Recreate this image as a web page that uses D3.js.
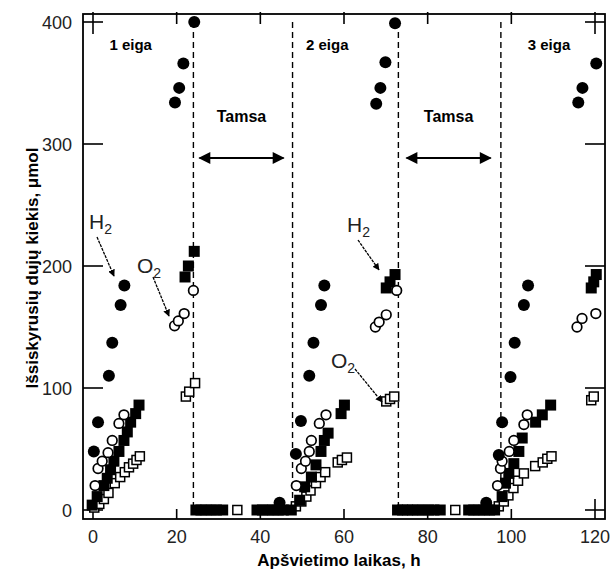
<!DOCTYPE html>
<html><head><meta charset="utf-8">
<script src="https://cdn.jsdelivr.net/npm/d3@7"></script>
<style>body{margin:0;background:#fff}svg{display:block}</style>
</head><body>
<script>
// ---- data ----
const xTicks = [0, 20, 40, 60, 80, 100, 120];
const yTicks = [0, 100, 200, 300, 400];
const darkLines = [24, 47.7, 73, 97.5];
const phaseLabels = ["1 eiga", "2 eiga", "3 eiga"];
const phaseLabelX = [9, 56, 109];
const darkLabelX = [35.5, 85];
// H2 (filled circles)
const h2Circles = [
  [0.2,48],[1.2,72],[3.8,110],[4.6,137],[6.6,168],[7.5,184],[19.6,334],[20.6,346],[21.6,366],[24.2,400],
  [44.6,6],
  [48.5,46],[49.7,73],[51.7,110],[52.7,137],[54.5,168],[55.3,184],[67.7,333],[68.7,346],[69.9,367],[72.2,399],
  [94,6],
  [97,45],[97.8,72],[99.8,109],[100.8,137],[103,168],[104,184],[116,334],[117,346],[120.3,366]
];
// O2 (open circles)
const o2Circles = [
  [0.5,20],[1.2,34],[2.2,40],[3.6,47],[4.6,57],[6.2,71],[7.4,78],[19.5,151],[20.4,155],[21.8,161],[24,180],
  [48.6,20],[49.8,34],[50.8,40],[51.7,48],[52.2,57],[54.1,71],[55.7,78],[67.5,150],[68.4,154],[70.1,160],[72.6,180],
  [96.7,20],[97.4,34],[97.8,40],[99.5,48],[100.6,57],[103,70],[103.8,78],[115.7,150],[116.9,157],[120.2,161]
];
// H2 (filled squares)
const h2Squares = [
  [-0.2,4],[1,11],[2.6,20],[3.4,26],[4.2,33],[5,40],[6.2,48],[7.4,57],[8.2,64],[9,72],[10.2,79],[11,86],[22,191],[22.8,200],[24.2,212],
  [24.6,0],[25.8,0],[27,0],[28.3,0],[29.5,0],[31,0],[39.2,0],[40.5,0],[41.8,0],[43,0],[44.3,0],[45.5,0],[47.4,0],
  [49.4,8],[50.6,19],[52.2,27],[53.3,37],[54.5,48],[55.3,57],[56.2,63],[59.3,79],[60.1,86],[70.1,182],[71,187],[72.2,193],
  [72.8,0],[74,0],[75.2,0],[76.4,0],[77.6,0],[78.9,0],[80.2,0],[81.5,0],[83,0],[89.8,0],[91,0],[92.3,0],[93.5,0],[94.8,0],[96,0],
  [97.8,11],[98.6,22],[99.4,30],[100.6,38],[101.8,48],[102.6,59],[105.8,72],[107.4,78],[109.4,86],[119.1,182],[119.7,187],[120.3,193]
];
// O2 (open squares)
const o2Squares = [
  [0.3,2],[1.5,5],[2.6,9],[3.7,14],[5.2,22],[6.5,27],[7.6,31],[8.6,35],[9.6,38],[10.4,41],[11.2,44],[22.2,93],[23,97],[24.4,104],
  [34.5,0],
  [48.5,3],[49.8,7],[51,11],[52,16],[53.3,22],[54.4,27],[55.5,31],[58.5,39],[59.5,41],[60.7,43],[70.1,89],[71,91],[72,93],
  [86.6,0],
  [97,3],[98.2,7],[99.3,12],[100.5,18],[101.6,24],[103,30],[105.7,36],[107.5,39],[108.6,42],[109.6,44],[119.1,90],[119.7,93]
];

const W = 610, H = 573;
const font = "'Liberation Sans', Arial, Helvetica, sans-serif";
const svg = d3.select("body").append("svg").attr("width", W).attr("height", H)
  .style("font-family", font);

const x = d3.scaleLinear().domain([0, 120]).range([93, 595]);
const y = d3.scaleLinear().domain([0, 400]).range([510, 22]);
const L = 83, R = 605, T = 14, B = 519;

const defs = svg.append("defs");
defs.append("marker").attr("id", "ah")
  .attr("viewBox", "0 0 10 10").attr("refX", 9).attr("refY", 5)
  .attr("markerWidth", 7).attr("markerHeight", 7).attr("orient", "auto-start-reverse")
  .attr("markerUnits", "userSpaceOnUse")
  .append("path").attr("d", "M0,0 L10,5 L0,10 z").attr("fill", "#000");
defs.append("marker").attr("id", "ah2")
  .attr("viewBox", "0 0 10 10").attr("refX", 9).attr("refY", 5)
  .attr("markerWidth", 14).attr("markerHeight", 12).attr("orient", "auto-start-reverse")
  .attr("markerUnits", "userSpaceOnUse")
  .append("path").attr("d", "M0,0 L10,5 L0,10 z").attr("fill", "#000");

// frame
svg.append("rect").attr("x", L).attr("y", T).attr("width", R - L).attr("height", B - T)
  .attr("fill", "none").attr("stroke", "#000").attr("stroke-width", 1.8);

// ticks
const tk = svg.append("g").attr("stroke", "#000").attr("stroke-width", 1.6);
xTicks.forEach((v, i) => {
  const len = (i === 0 || i === xTicks.length - 1) ? 20 : 10;
  tk.append("line").attr("x1", x(v)).attr("x2", x(v)).attr("y1", B).attr("y2", B - len);
  tk.append("line").attr("x1", x(v)).attr("x2", x(v)).attr("y1", T - 2).attr("y2", T + len);
});
yTicks.forEach(v => {
  tk.append("line").attr("x1", L).attr("x2", L + 20).attr("y1", y(v)).attr("y2", y(v));
  tk.append("line").attr("x1", R).attr("x2", R - 20).attr("y1", y(v)).attr("y2", y(v));
});

// tick labels
svg.append("g").selectAll("text").data(xTicks).join("text")
  .attr("x", d => x(d)).attr("y", 543).attr("text-anchor", "middle")
  .attr("font-size", 18).attr("fill", "#222").text(d => d);
svg.append("g").selectAll("text").data(yTicks).join("text")
  .attr("x", 72).attr("y", d => y(d) + 6.5).attr("text-anchor", "end")
  .attr("font-size", 18).attr("fill", "#222").text(d => d);

// axis titles
svg.append("text").attr("x", 339).attr("y", 566).attr("text-anchor", "middle")
  .attr("font-size", 17).attr("font-weight", "bold").text("Apšvietimo laikas, h");
svg.append("text").attr("transform", "translate(38,268) rotate(-90)").attr("text-anchor", "middle")
  .attr("font-size", 17).attr("font-weight", "bold").text("Išsiskyrusių dujų kiekis, μmol");

// dashed lines
svg.append("g").selectAll("line").data(darkLines).join("line")
  .attr("x1", d => x(d)).attr("x2", d => x(d)).attr("y1", y(400)).attr("y2", y(0) - 4)
  .attr("stroke", "#000").attr("stroke-width", 1.4).attr("stroke-dasharray", "6,4");

// phase labels
svg.append("g").selectAll("text").data(phaseLabels).join("text")
  .attr("x", (d, i) => x(phaseLabelX[i])).attr("y", 50).attr("text-anchor", "middle")
  .attr("font-size", 15).attr("font-weight", "bold").text(d => d);
svg.append("g").selectAll("text").data(darkLabelX).join("text")
  .attr("x", d => x(d)).attr("y", 122).attr("text-anchor", "middle")
  .attr("font-size", 16).attr("font-weight", "bold").text("Tamsa");
svg.append("g").selectAll("line").data(darkLabelX).join("line")
  .attr("x1", d => x(d) - 42).attr("x2", d => x(d) + 42).attr("y1", 158).attr("y2", 158)
  .attr("stroke", "#000").attr("stroke-width", 2)
  .attr("marker-start", "url(#ah2)").attr("marker-end", "url(#ah2)");

// data markers
const pts = svg.append("g");
pts.selectAll(".os").data(o2Squares).join("rect").attr("class", "os")
  .attr("x", d => x(d[0]) - 4.5).attr("y", d => y(d[1]) - 4.5).attr("width", 9).attr("height", 9)
  .attr("fill", "#fff").attr("stroke", "#000").attr("stroke-width", 1.5);
pts.selectAll(".fs").data(h2Squares).join("rect").attr("class", "fs")
  .attr("x", d => x(d[0]) - 5.5).attr("y", d => y(d[1]) - 5.5).attr("width", 11).attr("height", 11)
  .attr("fill", "#000");
pts.selectAll(".oc").data(o2Circles).join("circle").attr("class", "oc")
  .attr("cx", d => x(d[0])).attr("cy", d => y(d[1])).attr("r", 4.8)
  .attr("fill", "#fff").attr("stroke", "#000").attr("stroke-width", 1.7);
pts.selectAll(".fc").data(h2Circles).join("circle").attr("class", "fc")
  .attr("cx", d => x(d[0])).attr("cy", d => y(d[1])).attr("r", 6)
  .attr("fill", "#000");

// annotations H2 / O2
function label(px, py, main) {
  const t = svg.append("text").attr("x", px).attr("y", py).attr("font-size", 21).attr("fill", "#222");
  t.append("tspan").text(main);
  t.append("tspan").attr("font-size", 14).attr("dy", 5).text("2");
}
function arrow(x1, y1, x2, y2) {
  svg.append("line").attr("x1", x1).attr("y1", y1).attr("x2", x2).attr("y2", y2)
    .attr("stroke", "#000").attr("stroke-width", 1.3).attr("stroke-dasharray", "3,1")
    .attr("marker-end", "url(#ah)");
}
label(89, 229, "H"); arrow(97, 237, 114, 276);
label(137, 273, "O"); arrow(153, 277, 169, 316);
label(347, 232, "H"); arrow(358, 240, 379, 270);
label(331, 368, "O"); arrow(355, 369, 382, 402);
</script>
</body></html>
